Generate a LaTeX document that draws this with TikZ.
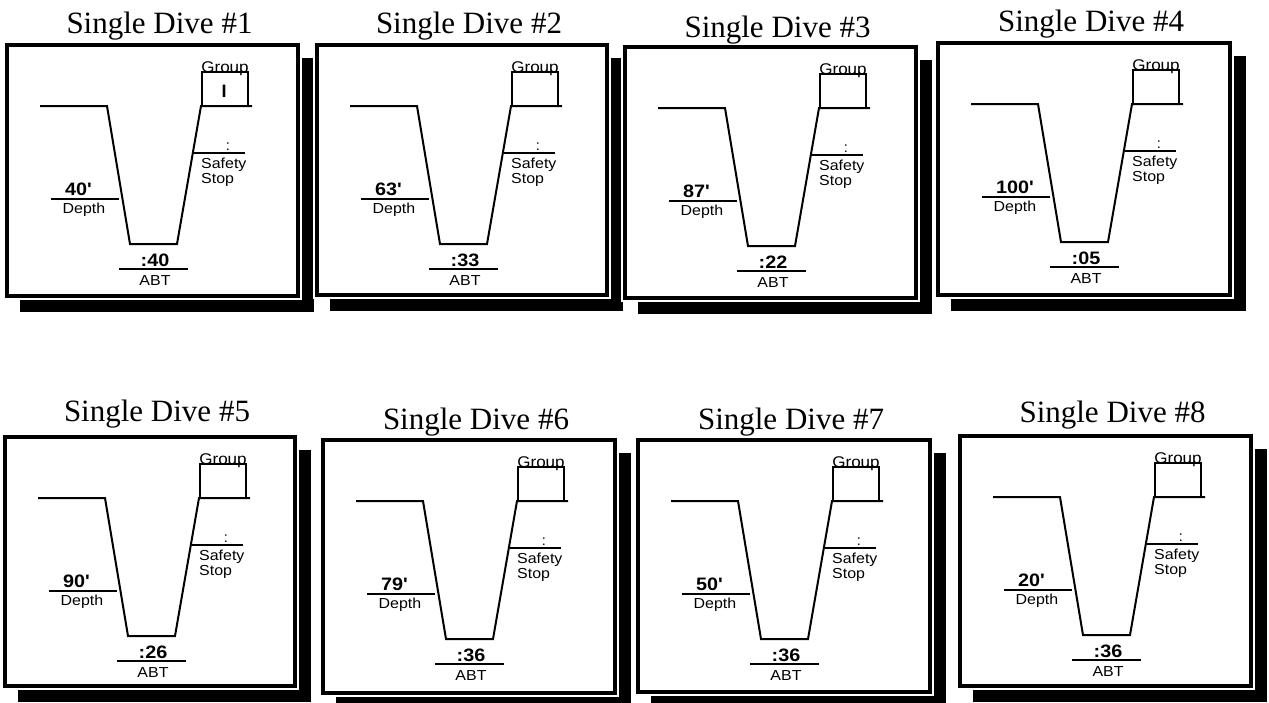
\documentclass[tikz,border=0pt]{standalone}
\usepackage{fontspec}
\setmainfont{Liberation Serif}
\newfontfamily\arialf{Liberation Sans}
\usepackage{graphicx}
\newcommand\wx[1]{\scalebox{1.1}[1]{#1}}
\tikzset{
  shadowfill/.style={fill=black},
  halo/.style={draw=white,line width=7.5pt},
  frame/.style={draw=black,line width=3.5pt,fill=white},
  profile/.style={line width=2pt,line join=miter},
  rule/.style={line width=1.8pt},
  thinrule/.style={line width=1.1pt},
  ttl/.style={anchor=base,inner sep=0pt,font=\fontsize{31}{31}\selectfont},
  lbl/.style={anchor=base,inner sep=0pt,font=\arialf\fontsize{14.5}{14.5}\selectfont},
  lbll/.style={lbl,anchor=base west},
  grplbl/.style={anchor=base,inner sep=0pt,font=\arialf\fontsize{15.5}{15.5}\selectfont},
  val/.style={anchor=base,inner sep=0pt,font=\arialf\bfseries\fontsize{18}{18}\selectfont},
  valw/.style={val,anchor=base west},
}
% #1 number, #2 L, #3 T, #4 R, #5 B, #6 title baseline, #7 depth, #8 abt
\newcommand\divepanel[8]{%
  \begin{scope}[shift={(#2,#3)}]
    \pgfmathsetmacro\pw{#4-#2}
    \pgfmathsetmacro\ph{#5-#3}
    \fill[shadowfill] (13,13) rectangle (\pw+16,\ph+16);
    \draw[halo] (0,0) rectangle (\pw,\ph);
    \draw[frame] (0,0) rectangle (\pw,\ph);
    \node[ttl] (title#1) at ({\pw/2+7},{#6-#3}) {Single Dive \##1};
    \draw[profile] (33,61) -- (100,61) -- (123,199) -- (170,199) -- (194,61) -- (245,61);
    \draw[profile] (195,61) -- (195,27) -- (241,27) -- (241,61);
    \node[grplbl] (grp#1) at (218,27) {\wx{Group}};
    \draw[thinrule] (187,108) -- (238,108);
    \node[lbl] (col#1) at (221,105) {:};
    \node[lbll] (saf#1) at (194,123) {\wx{Safety}};
    \node[lbll] (stp#1) at (194,138) {\wx{Stop}};
    \draw[rule] (44,154) -- (112,154);
    \node[valw] (dv#1) at (58,150) {\wx{#7\textquotesingle}};
    \node[lbl] (dl#1) at (77,168) {\wx{Depth}};
    \draw[rule] (112,224) -- (181,224);
    \node[val] (av#1) at (148,221) {\wx{:#8}};
    \node[lbl] (al#1) at (148,240) {\wx{ABT}};
  \end{scope}}
\begin{document}
\begin{tikzpicture}[x=1pt,y=-1pt]
  \useasboundingbox (0,0) rectangle (1269,702);
  \clip (0,0) rectangle (1269,702);
  \fill[white] (0,0) rectangle (1269,702);
  \divepanel{1}{7}{45}{298}{296}{33}{40}{40}
  \node[val] (grpI) at (224,97) {I};
  \divepanel{2}{317}{45}{607}{295}{33}{63}{33}
  \divepanel{3}{625}{47}{916}{298}{37}{87}{22}
  \divepanel{4}{938}{43}{1230}{295}{31}{100}{05}
  \divepanel{5}{5}{437}{295}{686}{421}{90}{26}
  \divepanel{6}{323}{440}{615}{693}{429}{79}{36}
  \divepanel{7}{638}{440}{930}{692}{429}{50}{36}
  \divepanel{8}{960}{436}{1251}{686}{422}{20}{36}
\end{tikzpicture}
\end{document}
